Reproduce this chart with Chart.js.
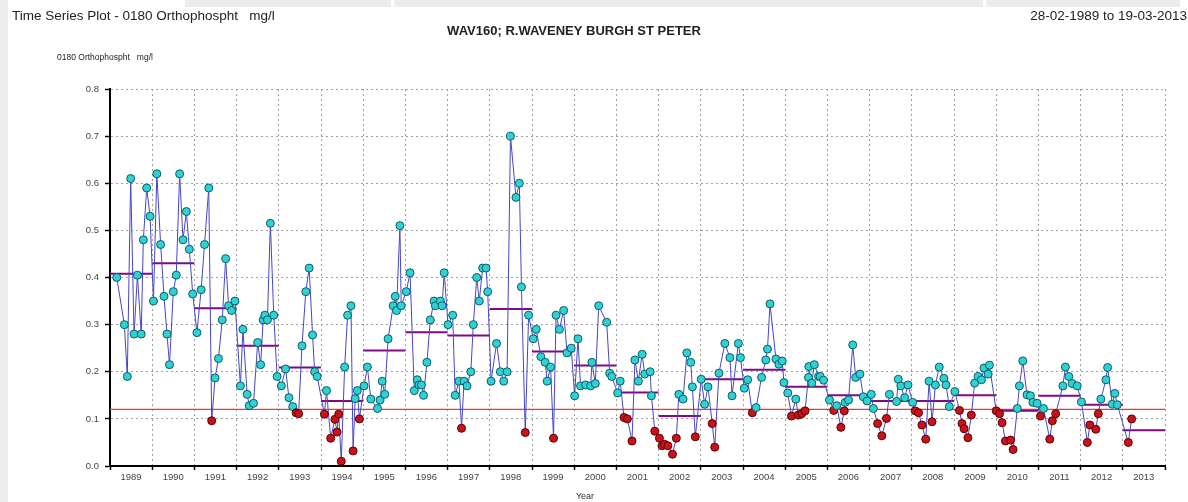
<!DOCTYPE html>
<html>
<head>
<meta charset="utf-8">
<script src="https://cdn.jsdelivr.net/npm/chart.js@4.4.1/dist/chart.umd.min.js"></script>
<style>
  html, body { margin: 0; padding: 0; background: #fff; }
  #wrap { position: relative; width: 1188px; height: 502px; overflow: hidden; background: #fff; }
  #tsChart { position: absolute; left: 0; top: 0; }
  .strip { position: absolute; background: #ececec; }
</style>
</head>
<body>
<div id="wrap">
  <div class="strip" style="left:0;top:0;width:8px;height:502px;"></div>
  <div class="strip" style="left:185px;top:0;width:206px;height:7px;"></div>
  <div class="strip" style="left:394px;top:0;width:589px;height:7px;"></div>
  <div class="strip" style="left:986px;top:0;width:194px;height:7px;"></div>
  <canvas id="tsChart" width="1188" height="502"></canvas>
</div>
<script>
// sample dates as decimal years
const sampleDates = [
  1989.16, 1989.34, 1989.41, 1989.49, 1989.57, 1989.65, 1989.74, 1989.79, 1989.87, 1989.95,
  1990.03, 1990.11, 1990.20, 1990.28, 1990.35, 1990.41, 1990.50, 1990.57, 1990.65, 1990.73,
  1990.81, 1990.88, 1990.96, 1991.06, 1991.16, 1991.24, 1991.34, 1991.41, 1991.49, 1991.57,
  1991.66, 1991.74, 1991.81, 1991.88, 1991.96, 1992.09, 1992.15, 1992.25, 1992.30, 1992.40,
  1992.50, 1992.57, 1992.63, 1992.67, 1992.73, 1992.80, 1992.88, 1992.96, 1993.06, 1993.16,
  1993.24, 1993.33, 1993.41, 1993.47, 1993.55, 1993.64, 1993.72, 1993.80, 1993.85, 1993.91,
  1994.08, 1994.13, 1994.23, 1994.33, 1994.38, 1994.42, 1994.48, 1994.56, 1994.63, 1994.71,
  1994.76, 1994.81, 1994.86, 1994.91, 1995.02, 1995.10, 1995.18, 1995.34, 1995.40, 1995.45,
  1995.51, 1995.59, 1995.71, 1995.76, 1995.79, 1995.87, 1995.90, 1996.02, 1996.11, 1996.21,
  1996.28, 1996.32, 1996.38, 1996.43, 1996.51, 1996.59, 1996.68, 1996.71, 1996.83, 1996.87,
  1996.92, 1997.01, 1997.12, 1997.18, 1997.27, 1997.33, 1997.39, 1997.46, 1997.55, 1997.61,
  1997.69, 1997.75, 1997.83, 1997.91, 1997.95, 1998.03, 1998.16, 1998.25, 1998.33, 1998.41,
  1998.49, 1998.62, 1998.70, 1998.75, 1998.84, 1998.92, 1999.03, 1999.10, 1999.21, 1999.31,
  1999.36, 1999.44, 1999.51, 1999.57, 1999.65, 1999.75, 1999.83, 1999.93, 2000.01, 2000.09,
  2000.15, 2000.27, 2000.39, 2000.42, 2000.50, 2000.58, 2000.77, 2000.84, 2000.89, 2001.03,
  2001.09, 2001.18, 2001.26, 2001.37, 2001.44, 2001.52, 2001.61, 2001.67, 2001.80, 2001.83,
  2001.91, 2002.02, 2002.08, 2002.14, 2002.22, 2002.33, 2002.42, 2002.48, 2002.58, 2002.67,
  2002.76, 2002.80, 2002.87, 2003.01, 2003.09, 2003.17, 2003.27, 2003.33, 2003.43, 2003.57,
  2003.69, 2003.74, 2003.89, 2003.94, 2004.03, 2004.11, 2004.22, 2004.31, 2004.44, 2004.54,
  2004.58, 2004.64, 2004.78, 2004.85, 2004.93, 2004.97, 2005.06, 2005.15, 2005.25, 2005.31,
  2005.39, 2005.47, 2005.55, 2005.56, 2005.63, 2005.69, 2005.79, 2005.83, 2005.91, 2006.05,
  2006.15, 2006.22, 2006.32, 2006.40, 2006.42, 2006.50, 2006.60, 2006.67, 2006.77, 2006.85,
  2006.94, 2007.04, 2007.09, 2007.19, 2007.29, 2007.40, 2007.47, 2007.64, 2007.68, 2007.74,
  2007.83, 2007.91, 2008.02, 2008.08, 2008.16, 2008.24, 2008.33, 2008.41, 2008.48, 2008.56,
  2008.65, 2008.76, 2008.81, 2008.89, 2009.02, 2009.13, 2009.19, 2009.24, 2009.33, 2009.41,
  2009.49, 2009.57, 2009.65, 2009.71, 2009.81, 2009.84, 2010.00, 2010.08, 2010.14, 2010.22,
  2010.34, 2010.40, 2010.50, 2010.55, 2010.63, 2010.73, 2010.81, 2010.87, 2010.97, 2011.05,
  2011.12, 2011.27, 2011.33, 2011.41, 2011.58, 2011.64, 2011.72, 2011.80, 2011.92, 2012.02,
  2012.16, 2012.22, 2012.36, 2012.42, 2012.48, 2012.60, 2012.64, 2012.75, 2012.81, 2012.87,
  2013.13, 2013.21
];

// orthophosphate, mg/l
const sampleValues = [
  0.40, 0.30, 0.19, 0.61, 0.28, 0.405, 0.28, 0.48, 0.59, 0.53,
  0.35, 0.62, 0.47, 0.36, 0.28, 0.215, 0.37, 0.405, 0.62, 0.48,
  0.54, 0.46, 0.365, 0.283, 0.374, 0.47, 0.59, 0.096, 0.187, 0.228,
  0.31, 0.44, 0.34, 0.33, 0.35, 0.17, 0.29, 0.152, 0.128, 0.133,
  0.262, 0.215, 0.31, 0.32, 0.31, 0.515, 0.32, 0.19, 0.17, 0.206,
  0.145, 0.126, 0.113, 0.111, 0.255, 0.37, 0.42, 0.278, 0.20, 0.19,
  0.11, 0.16, 0.059, 0.099, 0.072, 0.11, 0.01, 0.21, 0.32, 0.34,
  0.032, 0.143, 0.16, 0.10, 0.17, 0.21, 0.142, 0.122, 0.14, 0.18,
  0.152, 0.27, 0.34, 0.36, 0.33, 0.51, 0.34, 0.37, 0.41, 0.16,
  0.183, 0.172, 0.172, 0.15, 0.22, 0.31, 0.35, 0.34, 0.35, 0.34,
  0.41, 0.30, 0.32, 0.15, 0.18, 0.08, 0.18, 0.17, 0.20, 0.30,
  0.40, 0.35, 0.42, 0.42, 0.37, 0.18, 0.26, 0.20, 0.18, 0.20,
  0.70, 0.57, 0.60, 0.38, 0.071, 0.32, 0.27, 0.29, 0.232, 0.22,
  0.18, 0.21, 0.059, 0.32, 0.29, 0.33, 0.24, 0.25, 0.149, 0.27,
  0.17, 0.172, 0.17, 0.22, 0.175, 0.34, 0.305, 0.197, 0.19, 0.155,
  0.18, 0.103, 0.10, 0.053, 0.225, 0.18, 0.237, 0.195, 0.20, 0.149,
  0.074, 0.059, 0.043, 0.046, 0.043, 0.025, 0.059, 0.152, 0.142, 0.24,
  0.22, 0.168, 0.062, 0.184, 0.131, 0.168, 0.09, 0.04, 0.197, 0.26,
  0.23, 0.149, 0.26, 0.23, 0.165, 0.183, 0.113, 0.124, 0.188, 0.225,
  0.248, 0.344, 0.227, 0.216, 0.223, 0.177, 0.155, 0.106, 0.142, 0.108,
  0.111, 0.117, 0.188, 0.211, 0.176, 0.215, 0.19, 0.19, 0.182, 0.14,
  0.118, 0.128, 0.082, 0.117, 0.135, 0.14, 0.257, 0.188, 0.195, 0.147,
  0.138, 0.152, 0.122, 0.09, 0.064, 0.101, 0.152, 0.137, 0.184, 0.17,
  0.145, 0.172, 0.135, 0.117, 0.113, 0.087, 0.057, 0.18, 0.094, 0.172,
  0.21, 0.186, 0.172, 0.126, 0.158, 0.118, 0.09, 0.079, 0.06, 0.108,
  0.176, 0.19, 0.183, 0.208, 0.195, 0.214, 0.117, 0.111, 0.092, 0.053,
  0.055, 0.035, 0.122, 0.17, 0.223, 0.151, 0.149, 0.135, 0.133, 0.106,
  0.122, 0.057, 0.096, 0.111, 0.17, 0.21, 0.19, 0.175, 0.17, 0.136,
  0.05, 0.087, 0.078, 0.111, 0.142, 0.183, 0.209, 0.131, 0.154, 0.13,
  0.05, 0.10
];

// annual means (purple bars)
const meanYears = [1989, 1990, 1991, 1992, 1993, 1994, 1995, 1996, 1997, 1998, 1999, 2000,
  2001, 2002, 2003, 2004, 2005, 2006, 2007, 2008, 2009, 2010, 2011, 2012, 2013];
const meanValues = [0.408, 0.43, 0.335, 0.255, 0.209, 0.138, 0.245, 0.284, 0.277, 0.333, 0.243, 0.213,
  0.156, 0.106, 0.184, 0.204, 0.168, 0.15, 0.138, 0.138, 0.15, 0.117, 0.149, 0.13, 0.076];

const thresholdValue = 0.12;
const xMin = 1989, xMax = 2014;
const yMin = 0, yMax = 0.8;

const samplePoints = sampleDates.map((d, i) => ({ x: d, y: sampleValues[i] }));

const meanPoints = [];
meanYears.forEach((yr, i) => {
  meanPoints.push({ x: yr, y: meanValues[i] });
  meanPoints.push({ x: yr + 1, y: meanValues[i] });
  meanPoints.push({ x: yr + 1, y: null });
});

const textPlugin = {
  id: 'headerText',
  afterDraw(chart) {
    const c = chart.ctx;
    c.save();
    c.textBaseline = 'middle';
    c.fillStyle = '#222';
    c.font = '13.5px "Liberation Sans", Arial, sans-serif';
    c.textAlign = 'left';
    c.fillText('Time Series Plot - 0180 Orthophospht   mg/l', 12, 16);
    c.textAlign = 'right';
    c.fillText('28-02-1989 to 19-03-2013', 1187, 16);
    c.textAlign = 'center';
    c.font = 'bold 13px "Liberation Sans", Arial, sans-serif';
    c.fillText('WAV160; R.WAVENEY BURGH ST PETER', 574, 31);
    c.textAlign = 'left';
    c.font = '8.5px "Liberation Sans", Arial, sans-serif';
    c.fillText('0180 Orthophospht   mg/l', 57, 58);
    c.textAlign = 'center';
    c.font = '9px "Liberation Sans", Arial, sans-serif';
    c.fillStyle = '#333';
    c.fillText('Year', 585, 497);
    c.restore();
  }
};

const gridOpts = {
  color: '#a0a0a0',
  lineWidth: 1,
  tickColor: '#000',
  tickWidth: 1.5,
  drawOnChartArea: true
};

new Chart(document.getElementById('tsChart'), {
  type: 'line',
  plugins: [textPlugin],
  data: {
    datasets: [{
      label: 'Samples',
      data: samplePoints,
      order: 1,
      borderColor: '#4646c6',
      borderWidth: 1,
      tension: 0,
      pointRadius: 4,
      pointBorderWidth: 1,
      pointBackgroundColor: (ctx) => (ctx.raw && ctx.raw.y < thresholdValue) ? '#c8121c' : '#2ed2d2',
      pointBorderColor: (ctx) => (ctx.raw && ctx.raw.y < thresholdValue) ? '#5c0000' : '#0d5b66'
    }, {
      label: 'Annual mean',
      data: meanPoints,
      order: 2,
      borderColor: '#800a86',
      borderWidth: 2,
      pointRadius: 0,
      spanGaps: false
    }, {
      label: 'Limit',
      data: [{ x: xMin, y: thresholdValue }, { x: xMax, y: thresholdValue }],
      order: 3,
      borderColor: '#ff3030',
      backgroundColor: '#ff3030',
      borderWidth: 1.2,
      fill: false,
      pointRadius: 0
    }]
  },
  options: {
    responsive: false,
    animation: false,
    events: [],
    layout: { padding: { top: 89, right: 23, bottom: 0, left: 0 } },
    plugins: {
      legend: { display: false },
      tooltip: { enabled: false },
      title: { display: false }
    },
    scales: {
      x: {
        type: 'linear',
        min: xMin,
        max: xMax,
        afterFit: (s) => { s.height = 36; },
        grid: Object.assign({}, gridOpts, { tickLength: 4 }),
        border: { display: true, color: '#000', width: 2, dash: [2, 3] },
        ticks: {
          stepSize: 1,
          autoSkip: false,
          maxRotation: 0,
          labelOffset: 21,
          padding: 2,
          color: '#444',
          font: { family: '"Liberation Sans", Arial, sans-serif', size: 9.5 },
          callback: (v) => (v < xMax ? String(v) : '')
        }
      },
      y: {
        min: yMin,
        max: yMax,
        afterFit: (s) => { s.width = 110; },
        grid: Object.assign({}, gridOpts, { tickLength: 5 }),
        border: { display: true, color: '#000', width: 2, dash: [2, 3] },
        ticks: {
          stepSize: 0.1,
          padding: 6,
          color: '#444',
          font: { family: '"Liberation Sans", Arial, sans-serif', size: 9.5 },
          callback: (v) => Number(v).toFixed(1)
        }
      }
    }
  }
});
</script>
</body>
</html>
